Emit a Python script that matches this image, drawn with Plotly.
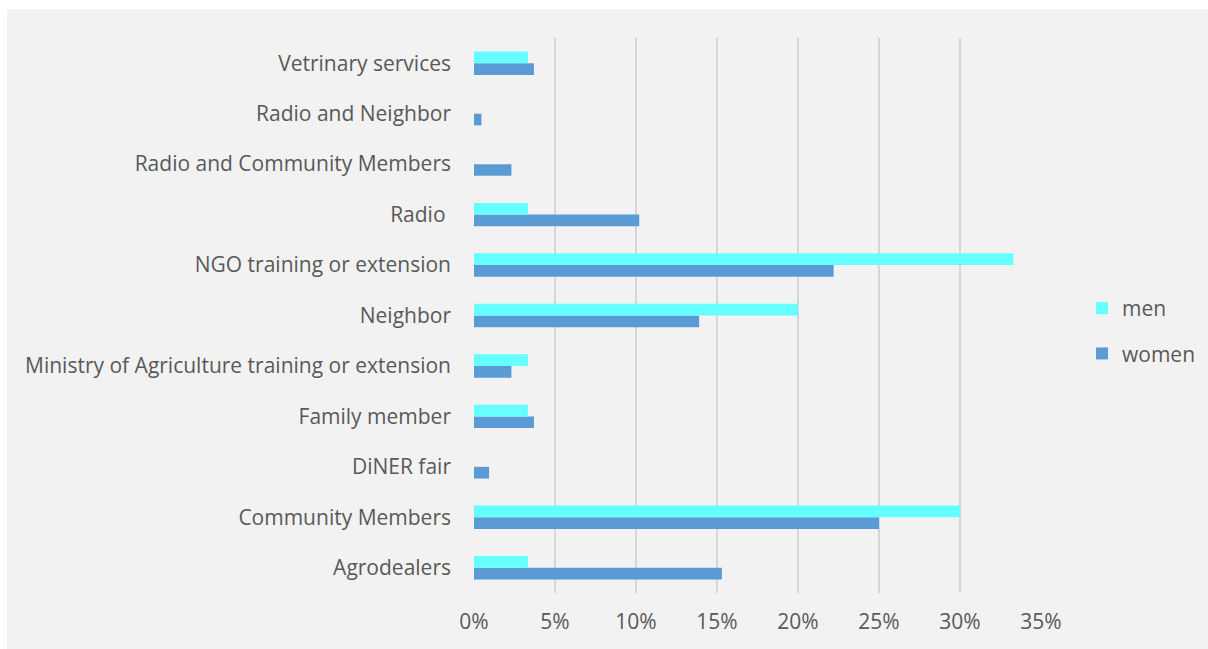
import plotly.graph_objects as go

# Sources of information, listed bottom-to-top as they appear on the axis
categories = [
    "Agrodealers",
    "Community Members",
    "DiNER fair",
    "Family member",
    "Ministry of Agriculture training or extension",
    "Neighbor",
    "NGO training or extension",
    "Radio\u00a0",
    "Radio and Community Members",
    "Radio and Neighbor",
    "Vetrinary services",
]

# Share of respondents citing each source
women = [0.153, 0.250, 0.0093, 0.037, 0.0231, 0.139, 0.222, 0.102, 0.0231, 0.0046, 0.037]
men = [0.0333, 0.300, 0.0, 0.0333, 0.0333, 0.200, 0.333, 0.0333, 0.0, 0.0, 0.0333]

x_ticks = [0, 0.05, 0.10, 0.15, 0.20, 0.25, 0.30, 0.35]
x_tick_labels = ["0%", "5%", "10%", "15%", "20%", "25%", "30%", "35%"]

W, H = 1208, 649
L, R, T, B = 474, 167, 38, 56
PW, PH = W - L - R, H - T - B

FONT = "'Open Sans', Lato, sans-serif"
TEXT = "#595959"
FS = 21

fig = go.Figure()
fig.add_trace(go.Bar(
    y=categories, x=women, name="women", orientation="h",
    marker=dict(color="#5B9BD5", line=dict(width=0)),
    legendgroup="women", legendrank=2,
))
fig.add_trace(go.Bar(
    y=categories, x=men, name="men", orientation="h",
    marker=dict(color="#66FFFF", line=dict(width=0)),
    legendgroup="men", legendrank=1,
))


def px_x(p):
    return (p - L) / PW


def px_y(p):
    return (H - B - p) / PH


# light grey chart area behind everything
fig.add_shape(
    type="rect", xref="paper", yref="paper", layer="below",
    x0=px_x(7), x1=px_x(1210), y0=px_y(651), y1=px_y(9),
    fillcolor="#F2F2F2", line=dict(width=0),
)

fig.update_layout(
    width=W, height=H,
    margin=dict(l=L, r=R, t=T, b=B, pad=0, autoexpand=False),
    paper_bgcolor="white",
    plot_bgcolor="rgba(0,0,0,0)",
    barmode="group",
    bargap=0.536,
    bargroupgap=0,
    font=dict(family=FONT, size=FS, color=TEXT),
    showlegend=True,
    legend=dict(
        traceorder="grouped",
        tracegroupgap=15,
        x=px_x(1082), xanchor="left",
        y=px_y(288), yanchor="top",
        bgcolor="rgba(0,0,0,0)",
        font=dict(family=FONT, size=FS, color=TEXT),
        itemwidth=30,
    ),
    xaxis=dict(
        range=[0, 0.35],
        tickvals=x_ticks,
        ticktext=x_tick_labels,
        showgrid=True,
        gridcolor="#D6D6D6",
        gridwidth=1.5,
        zeroline=False,
        showline=False,
        ticks="",
        ticklabelstandoff=14,
        tickfont=dict(family=FONT, size=FS, color=TEXT),
        fixedrange=True,
        automargin=False,
    ),
    yaxis=dict(
        type="category",
        categoryorder="array",
        categoryarray=categories,
        showgrid=False,
        zeroline=False,
        showline=False,
        ticks="",
        ticklabelstandoff=22,
        tickfont=dict(family=FONT, size=FS, color=TEXT),
        fixedrange=True,
        automargin=False,
    ),
)

fig.write_html("out.html")
